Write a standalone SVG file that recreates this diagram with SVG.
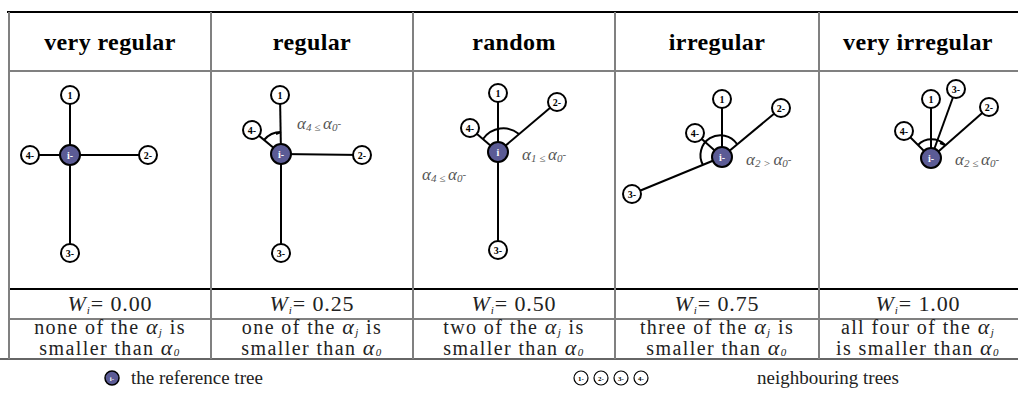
<svg xmlns="http://www.w3.org/2000/svg" width="1018" height="413" viewBox="0 0 1018 413">
<style>
.hd{font-family:"Liberation Serif",serif;font-weight:bold;font-size:24px;letter-spacing:0.4px;fill:#000;text-anchor:middle}
.fm{font-family:"Liberation Serif",serif;font-size:22px;letter-spacing:0.9px;fill:#222;text-anchor:middle}
.tx{font-family:"Liberation Serif",serif;font-size:20px;letter-spacing:1.4px;fill:#222;text-anchor:middle}
.al{font-family:"Liberation Serif",serif;font-style:italic;font-size:22px}
.sb{font-family:"Liberation Serif",serif;font-style:italic;font-size:11px}
.ang{font-family:"Liberation Serif",serif;font-style:italic;font-size:17px;fill:#555}
.as{font-size:11px}
.vl{stroke:#808080;stroke-width:2}
.hl{stroke:#808080;stroke-width:2}
.bl{stroke:#000;stroke-width:2}
.nb{fill:#fff;stroke:#000;stroke-width:2}
.rt{fill:#5b5b95;stroke:#000;stroke-width:2}
.nl{font-family:"Liberation Serif",serif;font-weight:bold;font-size:10px;fill:#000;text-anchor:middle}
.rl{font-family:"Liberation Serif",serif;font-weight:bold;font-size:10px;fill:#fff;text-anchor:middle}
.ed{stroke:#000;stroke-width:2;fill:none}
.arc{stroke:#000;stroke-width:2;fill:none}
.lg{font-family:"Liberation Serif",serif;font-size:19px;fill:#222}
</style>
<rect width="1018" height="413" fill="#fff"/>
<g id="table">
<line class="bl" x1="7" y1="12" x2="1018" y2="12"/>
<line class="hl" x1="9" y1="71" x2="1018" y2="71"/>
<line class="bl" x1="9" y1="289" x2="1018" y2="289"/>
<line class="hl" x1="9" y1="319" x2="1018" y2="319"/>
<line class="hl" x1="0" y1="359" x2="1018" y2="359" style="stroke:#666"/>
<line class="vl" x1="9" y1="12" x2="9" y2="359"/>
<line class="vl" x1="211" y1="12" x2="211" y2="359"/>
<line class="vl" x1="413" y1="12" x2="413" y2="359"/>
<line class="vl" x1="615" y1="12" x2="615" y2="359"/>
<line class="vl" x1="819" y1="12" x2="819" y2="359"/>
<text class="hd" x="110" y="50">very regular</text>
<text class="hd" x="312" y="50">regular</text>
<text class="hd" x="514" y="50">random</text>
<text class="hd" x="717" y="50">irregular</text>
<text class="hd" x="918" y="50">very irregular</text>
<text class="fm" x="110" y="311"><tspan font-style="italic">W</tspan><tspan class="sb" dy="3">i</tspan><tspan dy="-3">= 0.00</tspan></text>
<text class="fm" x="312" y="311"><tspan font-style="italic">W</tspan><tspan class="sb" dy="3">i</tspan><tspan dy="-3">= 0.25</tspan></text>
<text class="fm" x="514" y="311"><tspan font-style="italic">W</tspan><tspan class="sb" dy="3">i</tspan><tspan dy="-3">= 0.50</tspan></text>
<text class="fm" x="717" y="311"><tspan font-style="italic">W</tspan><tspan class="sb" dy="3">i</tspan><tspan dy="-3">= 0.75</tspan></text>
<text class="fm" x="918" y="311"><tspan font-style="italic">W</tspan><tspan class="sb" dy="3">i</tspan><tspan dy="-3">= 1.00</tspan></text>
<text class="tx" x="110" y="334">none of the <tspan class="al">α</tspan><tspan class="sb" dy="2">j</tspan><tspan dy="-2"> is</tspan></text>
<text class="tx" x="110" y="355">smaller than <tspan class="al">α</tspan><tspan class="sb" dy="1">0</tspan></text>
<text class="tx" x="312" y="334">one of the <tspan class="al">α</tspan><tspan class="sb" dy="2">j</tspan><tspan dy="-2"> is</tspan></text>
<text class="tx" x="312" y="355">smaller than <tspan class="al">α</tspan><tspan class="sb" dy="1">0</tspan></text>
<text class="tx" x="514" y="334">two of the <tspan class="al">α</tspan><tspan class="sb" dy="2">j</tspan><tspan dy="-2"> is</tspan></text>
<text class="tx" x="514" y="355">smaller than <tspan class="al">α</tspan><tspan class="sb" dy="1">0</tspan></text>
<text class="tx" x="717" y="334">three of the <tspan class="al">α</tspan><tspan class="sb" dy="2">j</tspan><tspan dy="-2"> is</tspan></text>
<text class="tx" x="717" y="355">smaller than <tspan class="al">α</tspan><tspan class="sb" dy="1">0</tspan></text>
<text class="tx" x="918" y="334">all four of  the <tspan class="al">α</tspan><tspan class="sb" dy="2">j</tspan></text>
<text class="tx" x="918" y="355">is smaller than <tspan class="al">α</tspan><tspan class="sb" dy="1">0</tspan></text>
</g>
<g id="connectors">
<line class="ed" x1="70" y1="155" x2="70" y2="95"/>
<line class="ed" x1="70" y1="155" x2="148" y2="155"/>
<line class="ed" x1="70" y1="155" x2="70" y2="253"/>
<line class="ed" x1="70" y1="155" x2="30" y2="155"/>
<line class="ed" x1="281" y1="154" x2="280" y2="95"/>
<line class="ed" x1="281" y1="154" x2="362" y2="155"/>
<line class="ed" x1="281" y1="154" x2="281" y2="253"/>
<line class="ed" x1="281" y1="154" x2="252" y2="130"/>
<path class="arc" d="M264,140 A22,22 0 0 1 281,132"/>
<line class="ed" x1="276" y1="134" x2="281" y2="132"/>
<line class="ed" x1="498" y1="152" x2="498" y2="93"/>
<line class="ed" x1="498" y1="152" x2="557" y2="102"/>
<line class="ed" x1="498" y1="152" x2="498" y2="250"/>
<line class="ed" x1="498" y1="152" x2="470" y2="128"/>
<path class="arc" d="M483,139 A26,28 0 0 1 519,134"/>
<line class="ed" x1="722" y1="157" x2="722" y2="99"/>
<line class="ed" x1="722" y1="157" x2="781" y2="108"/>
<line class="ed" x1="722" y1="157" x2="632" y2="194"/>
<line class="ed" x1="722" y1="157" x2="695" y2="133"/>
<path class="arc" d="M703,165 A20,20 0 0 1 737,144"/>
<line class="ed" x1="931" y1="158" x2="931" y2="99"/>
<line class="ed" x1="931" y1="158" x2="956" y2="89"/>
<line class="ed" x1="931" y1="158" x2="989" y2="107"/>
<line class="ed" x1="931" y1="158" x2="904" y2="131"/>
<path class="arc" d="M918,145 A19,19 0 0 1 945,145"/>
<line class="ed" x1="940" y1="143" x2="945" y2="145"/>
</g>
<g id="labels">
<text class="ang" x="297" y="129">α<tspan class="as" dy="2">4 ≤ </tspan><tspan dy="-2">α</tspan><tspan class="as" dy="2">0</tspan><tspan class="as" dy="-4">-</tspan></text>
<text class="ang" x="522" y="160">α<tspan class="as" dy="2">1 ≤ </tspan><tspan dy="-2">α</tspan><tspan class="as" dy="2">0</tspan><tspan class="as" dy="-4">-</tspan></text>
<text class="ang" x="422" y="180">α<tspan class="as" dy="2">4 ≤ </tspan><tspan dy="-2">α</tspan><tspan class="as" dy="2">0</tspan><tspan class="as" dy="-4">-</tspan></text>
<text class="ang" x="746" y="165">α<tspan class="as" dy="2">2 &gt; </tspan><tspan dy="-2">α</tspan><tspan class="as" dy="2">0</tspan><tspan class="as" dy="-4">-</tspan></text>
<text class="ang" x="955" y="165">α<tspan class="as" dy="2">2 ≤ </tspan><tspan dy="-2">α</tspan><tspan class="as" dy="2">0</tspan><tspan class="as" dy="-4">-</tspan></text>
</g>
<g id="tree-very-regular">
<circle class="nb" cx="70" cy="95" r="9"/><text class="nl" x="70" y="98.5">1</text>
<circle class="nb" cx="148" cy="155" r="9"/><text class="nl" x="148" y="158.5">2-</text>
<circle class="nb" cx="70" cy="253" r="9"/><text class="nl" x="70" y="256.5">3-</text>
<circle class="nb" cx="30" cy="155" r="9"/><text class="nl" x="30" y="158.5">4-</text>
<circle class="rt" cx="70" cy="155" r="10"/><text class="rl" x="70" y="158.5">i-</text>
</g>
<g id="tree-regular">
<circle class="nb" cx="280" cy="95" r="9"/><text class="nl" x="280" y="98.5">1</text>
<circle class="nb" cx="362" cy="155" r="9"/><text class="nl" x="362" y="158.5">2-</text>
<circle class="nb" cx="281" cy="253" r="9"/><text class="nl" x="281" y="256.5">3-</text>
<circle class="nb" cx="252" cy="130" r="9"/><text class="nl" x="252" y="133.5">4-</text>
<circle class="rt" cx="281" cy="154" r="10"/><text class="rl" x="281" y="157.5">i-</text>
</g>
<g id="tree-random">
<circle class="nb" cx="498" cy="93" r="9"/><text class="nl" x="498" y="96.5">1</text>
<circle class="nb" cx="557" cy="102" r="9"/><text class="nl" x="557" y="105.5">2-</text>
<circle class="nb" cx="498" cy="250" r="9"/><text class="nl" x="498" y="253.5">3-</text>
<circle class="nb" cx="470" cy="128" r="9"/><text class="nl" x="470" y="131.5">4-</text>
<circle class="rt" cx="498" cy="152" r="10"/><text class="rl" x="498" y="155.5">i</text>
</g>
<g id="tree-irregular">
<circle class="nb" cx="722" cy="99" r="9"/><text class="nl" x="722" y="102.5">1</text>
<circle class="nb" cx="781" cy="108" r="9"/><text class="nl" x="781" y="111.5">2-</text>
<circle class="nb" cx="632" cy="194" r="9"/><text class="nl" x="632" y="197.5">3-</text>
<circle class="nb" cx="695" cy="133" r="9"/><text class="nl" x="695" y="136.5">4-</text>
<circle class="rt" cx="722" cy="157" r="10"/><text class="rl" x="722" y="160.5">i-</text>
</g>
<g id="tree-very-irregular">
<circle class="nb" cx="931" cy="99" r="9"/><text class="nl" x="931" y="102.5">1</text>
<circle class="nb" cx="989" cy="107" r="9"/><text class="nl" x="989" y="110.5">2-</text>
<circle class="nb" cx="956" cy="89" r="9"/><text class="nl" x="956" y="92.5">3-</text>
<circle class="nb" cx="904" cy="131" r="9"/><text class="nl" x="904" y="134.5">4-</text>
<circle class="rt" cx="931" cy="158" r="10"/><text class="rl" x="931" y="161.5">i-</text>
</g>
<g id="legend">
<circle class="rt" cx="112" cy="378" r="7" style="stroke-width:1.5"/><text class="rl" x="112" y="380.5" style="font-size:7px">i-</text>
<text class="lg" x="131" y="384">the reference tree</text>
<circle class="nb" cx="581" cy="378" r="7" style="stroke-width:1.2"/><text class="nl" x="581" y="380.5" style="font-size:7px">1-</text>
<circle class="nb" cx="601" cy="378" r="7" style="stroke-width:1.2"/><text class="nl" x="601" y="380.5" style="font-size:7px">2-</text>
<circle class="nb" cx="621" cy="378" r="7" style="stroke-width:1.2"/><text class="nl" x="621" y="380.5" style="font-size:7px">3-</text>
<circle class="nb" cx="641" cy="378" r="7" style="stroke-width:1.2"/><text class="nl" x="641" y="380.5" style="font-size:7px">4-</text>
<text class="lg" x="757" y="384">neighbouring trees</text>
</g>
</svg>
